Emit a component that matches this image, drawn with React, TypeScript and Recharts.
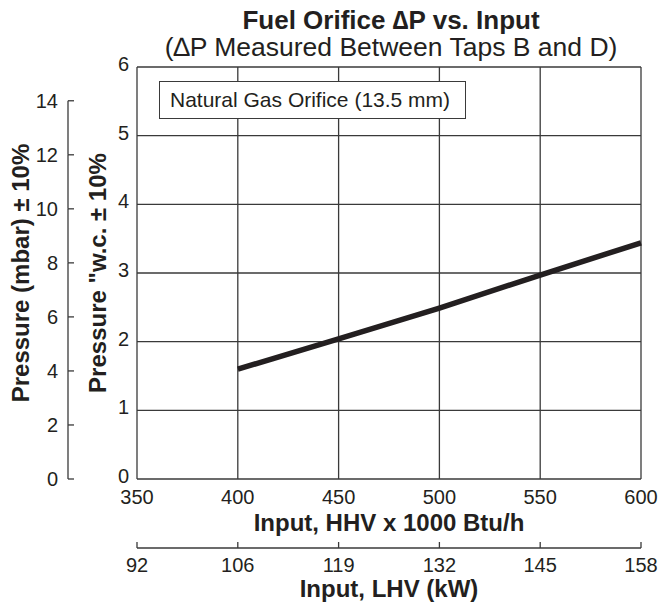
import { LineChart, Line, XAxis, YAxis, CartesianGrid, Legend } from 'recharts';

const FONT = '"Liberation Sans", Arial, Helvetica, sans-serif';
const INK = '#231f20';
const GRID = '#3a3a3a';

// data
const HHV_INPUT = [400, 450, 500, 550, 600]; // x 1000 Btu/h
const PRESSURE_WC = [1.6, 2.04, 2.49, 2.97, 3.44]; // inches w.c.

const HHV_TICKS = [350, 400, 450, 500, 550, 600];
const LHV_KW_LABELS = ['92', '106', '119', '132', '145', '158'];
const WC_TICKS = [0, 1, 2, 3, 4, 5, 6];
const MBAR_TICKS = [0, 2, 4, 6, 8, 10, 12, 14];

const SERIES_NAME = 'Natural Gas Orifice (13.5 mm)';

const data = HHV_INPUT.map((hhv, i) => ({ hhv, wc: PRESSURE_WC[i] }));

// layout
const PLOT_TOP = 67;
const PLOT_H = 412;
const MBAR_AXIS_W = 68;
const WC_AXIS_W = 69;
const MBAR_MAX = 15.25;

const MbarTick = (props: any) => {
  const { y, payload } = props;
  const v = payload.value;
  const seg = v > 0 ? (PLOT_H * 2) / MBAR_MAX : 0;
  const ax = MBAR_AXIS_W;
  return (
    <g>
      <line x1={ax} x2={ax + 6} y1={y} y2={y} stroke={GRID} strokeWidth={1.3} />
      {seg > 0 && <line x1={ax} x2={ax} y1={y} y2={y + seg} stroke={GRID} strokeWidth={1.3} />}
      <text x={ax - 10} y={y} dy="0.35em" textAnchor="end" fontSize={20} fill={INK} fontFamily={FONT}>
        {v}
      </text>
    </g>
  );
};

const WcTick = (props: any) => {
  const { x, y, payload } = props;
  return (
    <text x={x} y={y - 3} dy="0.35em" textAnchor="end" fontSize={20} fill={INK} fontFamily={FONT}>
      {payload.value}
    </text>
  );
};

const rotatedTitle = (text: string, x: number) => () => (
  <text
    x={x}
    y={PLOT_TOP + PLOT_H / 2}
    transform={`rotate(-90, ${x}, ${PLOT_TOP + PLOT_H / 2})`}
    textAnchor="middle"
    fontSize={24}
    fontWeight="bold"
    fill={INK}
    fontFamily={FONT}
  >
    {text}
  </text>
);

const bottomTitle = (text: string, offset: number) => (p: any) => {
  const vb = p.viewBox;
  return (
    <text
      x={vb.x + vb.width / 2}
      y={vb.y + vb.height - offset}
      textAnchor="middle"
      fontSize={24}
      fontWeight="bold"
      fill={INK}
      fontFamily={FONT}
    >
      {text}
    </text>
  );
};

const LegendBox = () => (
  <div
    style={{
      border: `1.3px solid ${GRID}`,
      background: '#fff',
      width: 307,
      height: 38,
      boxSizing: 'border-box',
      paddingLeft: 10,
      fontSize: 21,
      lineHeight: '36px',
      color: INK,
      fontFamily: FONT,
      whiteSpace: 'nowrap',
    }}
  >
    {SERIES_NAME}
  </div>
);

export default function App() {
  return (
    <div style={{ position: 'absolute', left: 0, top: 0, width: 658, height: 606, background: '#fff', fontFamily: FONT }}>
      <div
        style={{
          position: 'absolute', left: 91, top: 8, width: 600, textAlign: 'center',
          fontSize: 26, lineHeight: '24px', fontWeight: 'bold', color: INK, whiteSpace: 'nowrap',
        }}
      >
        Fuel Orifice ∆P vs. Input
      </div>
      <div
        style={{
          position: 'absolute', left: 91, top: 34, width: 600, textAlign: 'center',
          fontSize: 26.5, lineHeight: '26px', color: INK, whiteSpace: 'nowrap',
        }}
      >
        (∆P Measured Between Taps B and D)
      </div>
      <LineChart
        width={658}
        height={606}
        data={data}
        margin={{ top: PLOT_TOP, right: 17, left: 0, bottom: 0 }}
        style={{ fontFamily: FONT }}
      >
        <CartesianGrid stroke={GRID} strokeWidth={1.3} />
        <XAxis
          dataKey="hhv"
          type="number"
          domain={[350, 600]}
          ticks={HHV_TICKS}
          interval={0}
          height={69}
          axisLine={false}
          tickLine={false}
          tickSize={0}
          tickMargin={11}
          tick={{ fontSize: 20, fill: INK, fontFamily: FONT }}
          label={{ content: bottomTitle('Input, HHV x 1000 Btu/h', 17) }}
        />
        <XAxis
          xAxisId="kw"
          dataKey="hhv"
          type="number"
          domain={[350, 600]}
          ticks={HHV_TICKS}
          interval={0}
          height={58}
          stroke={GRID}
          axisLine={{ stroke: GRID, strokeWidth: 1.3 }}
          tickLine={{ stroke: GRID, strokeWidth: 1.3 }}
          tickSize={-6}
          tickMargin={16}
          tickFormatter={(v: number) => LHV_KW_LABELS[HHV_TICKS.indexOf(v)]}
          tick={{ fontSize: 20, fill: INK, fontFamily: FONT }}
          label={{ content: bottomTitle('Input, LHV (kW)', 9) }}
        />
        <YAxis
          dataKey="wc"
          type="number"
          domain={[0, 6]}
          ticks={WC_TICKS}
          interval={0}
          width={WC_AXIS_W}
          axisLine={false}
          tickLine={false}
          tickSize={0}
          tickMargin={8}
          tick={<WcTick />}
          label={{ content: rotatedTitle('Pressure "w.c. ± 10%', 106) }}
        />
        <YAxis
          yAxisId="mbar"
          dataKey="wc"
          type="number"
          domain={[0, MBAR_MAX]}
          allowDataOverflow
          ticks={MBAR_TICKS}
          interval={0}
          width={MBAR_AXIS_W}
          axisLine={false}
          tickLine={false}
          tick={<MbarTick />}
          label={{ content: rotatedTitle('Pressure (mbar) ± 10%', 29) }}
        />
        <Legend
          layout="vertical"
          align="center"
          verticalAlign="middle"
          wrapperStyle={{ left: 159, top: 81, width: 307, height: 38 }}
          content={<LegendBox />}
        />
        <Line
          type="linear"
          dataKey="wc"
          name={SERIES_NAME}
          stroke={INK}
          strokeWidth={5.5}
          dot={false}
          isAnimationActive={false}
        />
      </LineChart>
    </div>
  );
}
